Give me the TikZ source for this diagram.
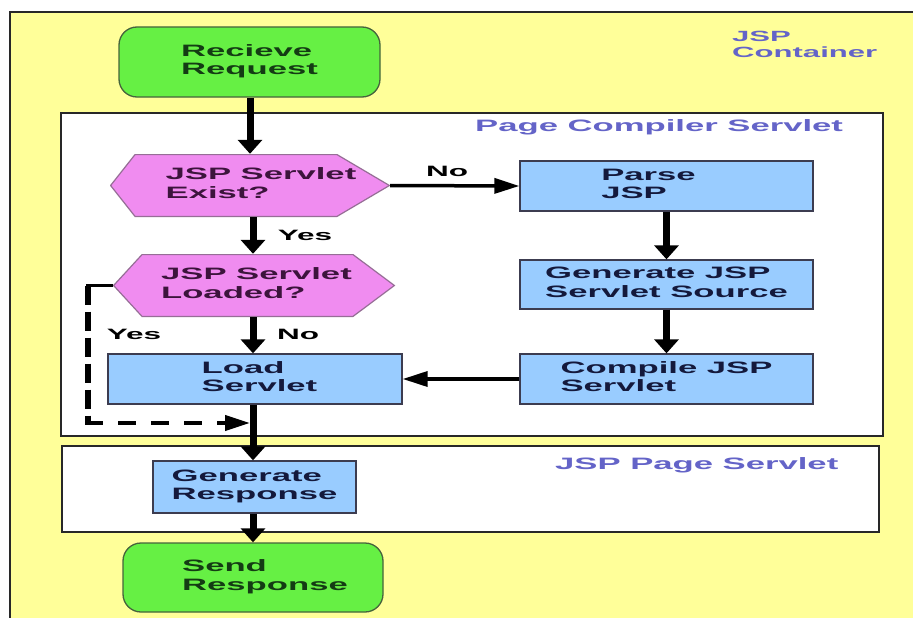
\documentclass[tikz,border=0pt]{standalone}
\usepackage{fontspec}
\setmainfont{Liberation Sans}[FakeStretch=2.1]
\usetikzlibrary{arrows.meta}

\definecolor{bgyellow}{RGB}{255,255,153}
\definecolor{termgreen}{RGB}{102,240,68}
\definecolor{termedge}{RGB}{70,100,60}
\definecolor{termtext}{RGB}{20,60,20}
\definecolor{decpink}{RGB}{240,140,240}
\definecolor{decedge}{RGB}{150,110,150}
\definecolor{dectext}{RGB}{60,20,60}
\definecolor{procblue}{RGB}{153,204,255}
\definecolor{procedge}{RGB}{60,60,80}
\definecolor{proctext}{RGB}{20,25,60}
\definecolor{tagblue}{RGB}{100,100,200}
\definecolor{frameline}{RGB}{40,40,40}

% two-line text block, lines flush left
\newcommand\tb[1]{\begin{tabular}{@{}l@{}}#1\end{tabular}}

\begin{document}
\begin{tikzpicture}[x=1pt,y=-1pt,
  frame/.style={draw=frameline, line width=1.3pt},
  flowtxt/.style={font=\fontsize{16.5}{18.5}\selectfont\bfseries, inner sep=0pt},
  terminal/.style={flowtxt, draw=termedge, line width=1.3pt, fill=termgreen,
    rounded corners=18pt, text=termtext},
  process/.style={flowtxt, draw=procedge, line width=1.3pt, fill=procblue, text=proctext},
  decision/.style 2 args={flowtxt, text=dectext,
    path picture={\filldraw[draw=decedge, fill=decpink, line width=1.2pt]
      ([xshift=#1,yshift=-0.6pt]path picture bounding box.north west)
      -- ([xshift=-#2,yshift=-0.6pt]path picture bounding box.north east)
      -- ([xshift=-0.6pt]path picture bounding box.east)
      -- ([xshift=-#2,yshift=0.6pt]path picture bounding box.south east)
      -- ([xshift=#1,yshift=0.6pt]path picture bounding box.south west)
      -- ([xshift=0.6pt]path picture bounding box.west) -- cycle;}},
  tag/.style={text=tagblue, font=\fontsize{16.5}{18}\selectfont\bfseries, inner sep=0pt},
  answer/.style={font=\fontsize{15}{17}\selectfont\bfseries, inner sep=0pt},
  vflow/.style={line width=7pt, -{Triangle[width=24pt,length=14pt]}},
  hflow/.style={line width=3.5pt, -{Triangle[width=15pt,length=25pt]}},
]
\useasboundingbox (0,0) rectangle (913,618);
\fill[white] (0,0) rectangle (913,618);

% containers
\draw[frame, fill=bgyellow] (10,12) rectangle (960,670);
\draw[frame, fill=white] (61,113) rectangle (883,436);
\draw[frame, fill=white] (62,446) rectangle (879,532);

% container titles
\node[tag, anchor=west, align=left, font=\fontsize{14.8}{16}\selectfont\bfseries]
  (containerTitle) at (732,44) {JSP\\Container};
\node[tag, anchor=base west] (compilerTitle) at (475,131) {Page Compiler Servlet};
\node[tag, anchor=base west] (pageTitle) at (555,469) {JSP Page Servlet};

% flow nodes
\node[terminal, minimum width=261pt, minimum height=70pt] (req) at (249.5,62)
  {\tb{Recieve\\Request}};
\node[decision={25pt}{53pt}, minimum width=280pt, minimum height=63pt] (exist) at (250,185.5)
  {\hspace*{22pt}\tb{JSP Servlet\\Exist?}};
\node[decision={29pt}{42pt}, minimum width=282pt, minimum height=63pt] (loaded) at (254,285.5)
  {\hspace*{5pt}\tb{JSP Servlet\\Loaded?}};
\node[process, minimum width=294pt, minimum height=50pt] (load) at (255,379)
  {\hspace*{9pt}\tb{Load\\Servlet}};
\node[process, minimum width=293pt, minimum height=50pt] (parse) at (666.5,186)
  {\tb{Parse\\JSP}\hspace*{36pt}};
\node[process, minimum width=293pt, minimum height=49pt] (gensrc) at (666.5,284.5)
  {\tb{Generate JSP\\Servlet Source}};
\node[process, minimum width=293pt, minimum height=50pt] (compile) at (666.5,379)
  {\tb{Compile JSP\\Servlet}};
\node[process, minimum width=203pt, minimum height=52pt] (genresp) at (254.5,487)
  {\tb{Generate\\Response}};
\node[terminal, minimum width=260pt, minimum height=69pt] (send) at (253,577.5)
  {\hspace*{24pt}\tb{Send\\Response}};

% branch labels
\node[answer] (noExist) at (447,171) {No};
\node[answer] (yesExist) at (305,235) {Yes};
\node[answer] (noLoaded) at (298,334) {No};
\node[answer] (yesLoaded) at (134,334) {Yes};

% helper coordinates
\coordinate (col) at (253,0);
\coordinate (dashTop) at (88,285.5);
\coordinate (dashBottom) at (88,423);
\coordinate (merge) at (250,423);

% connectors
\draw[vflow] (req.south -| exist) -- (exist.north);
\draw[vflow] (exist.south -| col) -- (loaded.north -| col);
\draw[vflow] (loaded.south -| col) -- (load.north -| col);
\draw[vflow] (load.south -| col) -- (genresp.north -| col);
\draw[vflow] (genresp.south -| col) -- (send.north -| col);
\draw[hflow] (exist.east) -- (parse.west);
\draw[vflow] (parse) -- (gensrc);
\draw[vflow] (gensrc) -- (compile);
\draw[hflow] (compile.west) -- (load.east);
% "loaded" bypass: thin lead-out, then dashed down and across
\draw[line width=3pt] (loaded.west) -- ([xshift=-2.5pt]dashTop);
\draw[line width=6pt, dash pattern=on 19pt off 7pt] (dashTop) -- (dashBottom);
\draw[line width=4pt, dash pattern=on 18pt off 15pt, -{Triangle[width=15pt,length=25pt]}]
  ([xshift=-3pt]dashBottom) -- (merge);
\end{tikzpicture}
\end{document}
